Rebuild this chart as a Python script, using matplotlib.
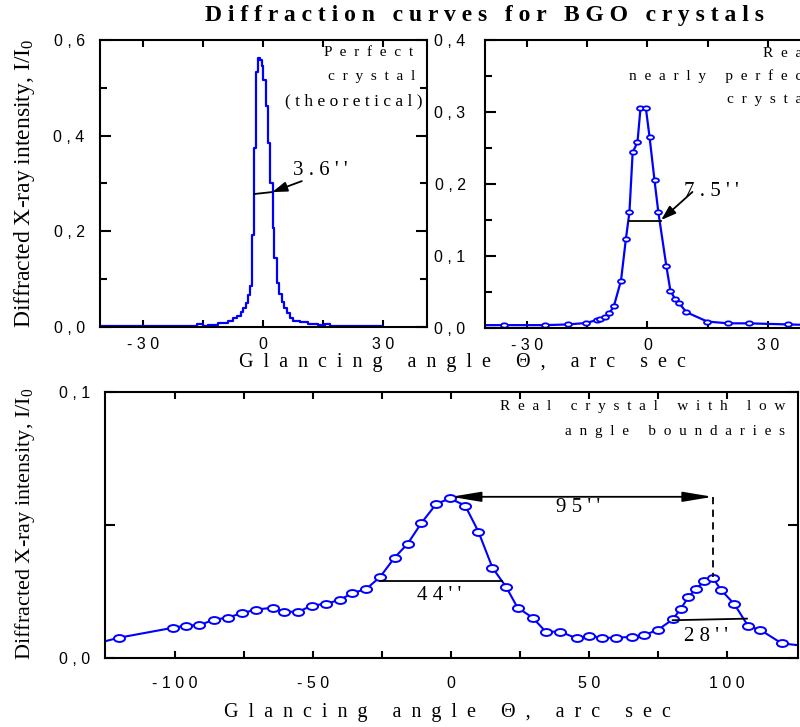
import matplotlib.pyplot as plt
from matplotlib.markers import MarkerStyle
from matplotlib.path import Path
from matplotlib.transforms import Affine2D

plt.rcParams['mathtext.fontset'] = 'custom'
plt.rcParams['mathtext.rm'] = 'Liberation Serif'
plt.rcParams['mathtext.it'] = 'Liberation Serif:italic'

# perfect crystal (theoretical): step starts and heights
theta_perfect = [-41, -16.6, -14.9, -13.7, -11.2, -8.7, -7.4, -6.4, -5.6, -4.9,
                 -4.3, -3.8, -3.25, -2.7, -2.25, -1.75, -1.2, -0.75, -0.35, 0.1,
                 0.7, 1.2, 1.75, 2.4, 2.8, 3.4, 4.1, 4.7, 5.25, 5.9,
                 6.75, 7.6, 9.25, 11.3, 13.8, 15.5, 16.75, 29.7]
int_perfect = [0.003, 0.007, 0.003, 0.005, 0.009, 0.0125, 0.018, 0.024, 0.031, 0.039,
               0.050, 0.067, 0.086, 0.192, 0.374, 0.534, 0.562, 0.559, 0.545, 0.517,
               0.461, 0.384, 0.302, 0.206, 0.144, 0.093, 0.070, 0.053, 0.039, 0.029,
               0.018, 0.013, 0.010, 0.007, 0.004, 0.007, 0.003, 0.003]

# real nearly perfect crystal (first and last points are the frame edges)
theta_real = [-41, -35.75, -25.5, -19.7, -15.3, -12.7, -11.75, -10.5, -9.5, -8.4,
              -6.6, -5.4, -4.5, -3.7, -2.5, -1.75, -0.4, 0.5, 1.75, 2.7,
              4.7, 5.7, 6.8, 7.8, 9.7, 14.9, 20.1, 25.2, 34.9, 42]
int_real = [0.004, 0.004, 0.004, 0.005, 0.007, 0.011, 0.0125, 0.015, 0.021, 0.030,
            0.066, 0.123, 0.161, 0.244, 0.258, 0.305, 0.305, 0.266, 0.205, 0.161,
            0.086, 0.052, 0.041, 0.035, 0.022, 0.009, 0.0065, 0.0065, 0.005, 0.004]

# real crystal with low angle boundaries (first and last points are the frame edges)
theta_low = [-125, -120.5, -100.6, -96, -91.2, -85.8, -81, -75.6, -70.8, -64.7,
             -60.5, -55.3, -50.5, -45.3, -40.2, -35.8, -30.8, -25.7, -20.5, -15.7,
             -10.8, -5.4, -0.4, 5.1, 9.9, 15, 19.9, 24.1, 29.5, 34.3,
             39.5, 45.5, 50, 54.6, 59.8, 65.7, 70, 75.1, 80.3, 83.2,
             86, 88.8, 91.8, 94.8, 97.7, 102.6, 107.7, 112, 119.8, 125]
int_low = [0.0064, 0.0076, 0.0114, 0.0122, 0.0124, 0.0144, 0.0152, 0.0169, 0.0182, 0.0189,
           0.0174, 0.0174, 0.0197, 0.0204, 0.0219, 0.0244, 0.0259, 0.0305, 0.0377, 0.0430,
           0.0507, 0.0579, 0.0600, 0.0573, 0.0475, 0.0339, 0.0268, 0.0189, 0.0152, 0.0099,
           0.0099, 0.0074, 0.0084, 0.0076, 0.0076, 0.0080, 0.0086, 0.0107, 0.0145, 0.0185,
           0.0229, 0.0261, 0.0288, 0.0302, 0.0257, 0.0203, 0.0119, 0.0106, 0.0055, 0.0049]

xticks_top = [-30, 0, 30]
yticks_perfect = [0.0, 0.2, 0.4, 0.6]
yticks_real = [0.0, 0.1, 0.2, 0.3, 0.4]
xticks_low = [-100, -50, 0, 50, 100]
yticks_low = [0.0, 0.1]

SERIF = 'Liberation Serif'
SANS = 'Liberation Sans'
BLUE = '#0000ff'


def spaced(s, n=1):
    return (' ' * n).join(s)


def num_label(v, dec):
    if dec == 0:
        return spaced(str(int(v)))
    return spaced(f"{v:.{dec}f}".replace('.', ','))


ellipse = MarkerStyle(Path.unit_circle().transformed(Affine2D().scale(1.0, 0.62)))


def style_axes(ax, xticks, yticks, xminor, yminor, ylen=8):
    for sp in ax.spines.values():
        sp.set_linewidth(1.5)
    ax.set_xticks(xticks)
    ax.set_xticklabels([num_label(v, 0) for v in xticks], fontfamily=SANS, fontsize=11.5)
    ax.set_yticks(yticks)
    ax.set_yticklabels([num_label(v, 1) for v in yticks], fontfamily=SANS, fontsize=11.5)
    ax.set_xticks(xminor, minor=True)
    ax.set_yticks(yminor, minor=True)
    ax.tick_params(which='both', direction='in', top=True, right=True, width=1.5)
    ax.tick_params(axis='x', which='both', length=5, pad=7)
    ax.tick_params(axis='y', which='major', length=ylen, pad=11)
    ax.tick_params(axis='y', which='minor', length=5)


fig = plt.figure(figsize=(8, 7.27), dpi=100)

# --- perfect crystal
ax1 = fig.add_axes([0.125, 0.5502, 0.40875, 0.3948])
ax1.plot(theta_perfect, int_perfect, drawstyle='steps-post', color=BLUE, lw=1.6)
ax1.set_xlim(-40.75, 41)
ax1.set_ylim(0, 0.6)
style_axes(ax1, xticks_top, yticks_perfect, [-15, 15], [0.1, 0.3, 0.5])
ax1.plot([-2.25, 2.2], [0.278, 0.282], color='black', lw=1.3)
ax1.annotate('', xy=(2.3, 0.282), xytext=(9.7, 0.305),
             arrowprops=dict(arrowstyle='-|>,head_length=0.9,head_width=0.3',
                             color='black', lw=1.3, shrinkA=0, shrinkB=0))
ax1.text(7.6, 0.328, spaced("3.6''"), fontfamily=SERIF, fontsize=15,
         ha='left', va='center')
ax1.text(37.5, 0.573, spaced('Perfect', 2), fontfamily=SERIF, fontsize=11, ha='right', va='center')
ax1.text(38, 0.523, spaced('crystal', 2), fontfamily=SERIF, fontsize=11, ha='right', va='center')
ax1.text(39.8, 0.471, spaced('(theoretical)'), fontfamily=SERIF, fontsize=12.5,
         ha='right', va='center')

# --- real nearly perfect crystal
ax2 = fig.add_axes([0.60625, 0.5488, 0.40875, 0.3961])
ax2.plot(theta_real, int_real, color=BLUE, lw=1.6)
ax2.plot(theta_real[1:-1], int_real[1:-1], ls='none', marker=ellipse, ms=5,
         mfc='white', mec=BLUE, mew=1.3)
ax2.set_xlim(-40.5, 41)
ax2.set_ylim(0, 0.4)
style_axes(ax2, xticks_top, yticks_real, [-15, 15], [0.05, 0.15, 0.25, 0.35])
ax2.tick_params(axis='y', which='major', pad=14)
ax2.plot([-4.5, 3.25], [0.149, 0.149], color='black', lw=1.3)
ax2.annotate('', xy=(3.4, 0.150), xytext=(11.2, 0.189),
             arrowprops=dict(arrowstyle='-|>,head_length=0.9,head_width=0.3',
                             color='black', lw=1.3, shrinkA=0, shrinkB=0))
ax2.text(9.0, 0.19, spaced("7.5''"), fontfamily=SERIF, fontsize=15, ha='left', va='center')
ax2.text(41.5, 0.382, spaced('Real', 2), fontfamily=SERIF, fontsize=11, ha='right', va='center')
ax2.text(41.5, 0.350, spaced('nearly perfect', 2), fontfamily=SERIF, fontsize=11,
         ha='right', va='center')
ax2.text(41.5, 0.317, spaced('crystal', 2), fontfamily=SERIF, fontsize=11, ha='right', va='center')

# --- real crystal with low angle boundaries
ax3 = fig.add_axes([0.13125, 0.0949, 0.86625, 0.3659])
ax3.plot(theta_low, int_low, color=BLUE, lw=1.5, marker=ellipse, ms=8,
         mfc='white', mec=BLUE, mew=1.4, markevery=slice(1, -1))
ax3.set_xlim(-125.4, 125.7)
ax3.set_ylim(0, 0.1)
style_axes(ax3, xticks_low, yticks_low, [-75, -25, 25, 75], [], ylen=7)
ax3.set_yticks([0.05], minor=True)
ax3.tick_params(axis='y', which='minor', length=7)
ax3.tick_params(axis='x', which='both', pad=13)
ax3.plot([-25.7, 18.3], [0.029, 0.029], color='black', lw=1.3)
ax3.text(-4.5, 0.0235, spaced("44''"), fontfamily=SERIF, fontsize=15, ha='center', va='center')
ax3.annotate('', xy=(0, 0.0606), xytext=(94.8, 0.0606),
             arrowprops=dict(arrowstyle='<|-|>,head_length=1.8,head_width=0.3',
                             color='black', lw=1.3, shrinkA=0, shrinkB=0))
ax3.plot([94.8, 94.8], [0.0606, 0.0305], color='black', lw=1.3, ls=(0, (4, 3)))
ax3.text(46, 0.0566, spaced("95''"), fontfamily=SERIF, fontsize=15, ha='center', va='center')
ax3.plot([80.3, 107.2], [0.0142, 0.0148], color='black', lw=1.3)
ax3.text(92.5, 0.0079, spaced("28''"), fontfamily=SERIF, fontsize=15, ha='center', va='center')
ax3.text(121, 0.0944, spaced('Real crystal with low', 2), fontfamily=SERIF, fontsize=11,
         ha='right', va='center')
ax3.text(121, 0.0850, spaced('angle boundaries', 2), fontfamily=SERIF, fontsize=11,
         ha='right', va='center')

# --- figure texts
fig.text(485 / 800, 1 - 15 / 727, spaced('Diffraction curves for BGO crystals'),
         fontfamily=SERIF, fontweight='bold', fontsize=17, ha='center', va='center')
xlab = spaced('Glancing angle \u0398, arc sec', 2)
fig.text(462 / 800, 1 - 362 / 727, xlab, fontfamily=SERIF, fontsize=14.5,
         ha='center', va='center')
fig.text(447 / 800, 1 - 712 / 727, xlab, fontfamily=SERIF, fontsize=14.5,
         ha='center', va='center')
ylab = 'Diffracted X-ray intensity, I/I$_0$'
fig.text(25 / 800, 1 - 183 / 727, ylab, fontfamily=SERIF, fontsize=17, rotation=90,
         ha='center', va='center')
fig.text(25 / 800, 1 - 524 / 727, ylab, fontfamily=SERIF, fontsize=16, rotation=90,
         ha='center', va='center')

fig.savefig('out.png', dpi=100)
